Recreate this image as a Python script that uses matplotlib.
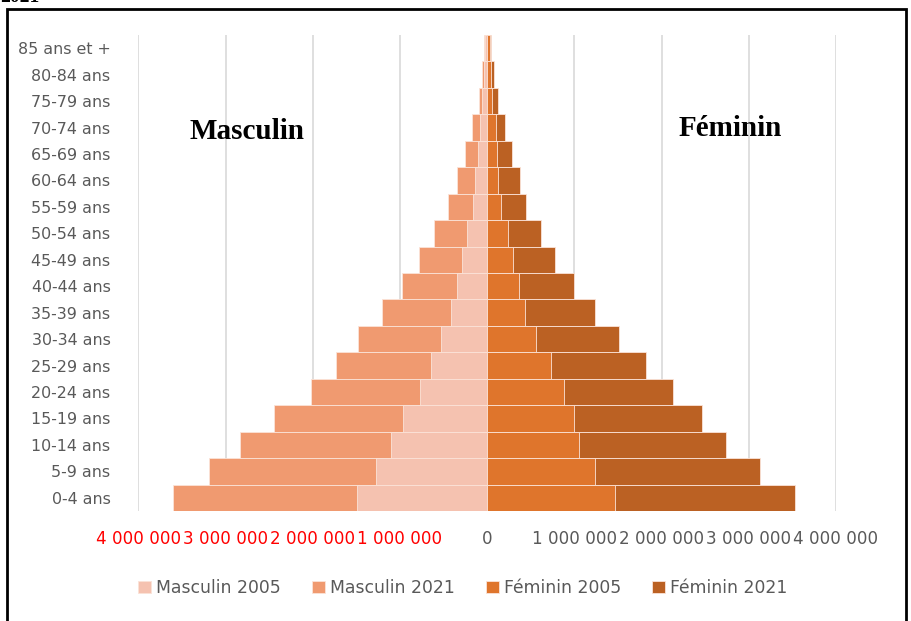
import numpy as np
import matplotlib.pyplot as plt
from matplotlib.patches import Rectangle
from matplotlib.ticker import FuncFormatter
from matplotlib import font_manager

# Age groups, bottom to top
ages = ['0-4 ans', '5-9 ans', '10-14 ans', '15-19 ans', '20-24 ans', '25-29 ans',
        '30-34 ans', '35-39 ans', '40-44 ans', '45-49 ans', '50-54 ans', '55-59 ans',
        '60-64 ans', '65-69 ans', '70-74 ans', '75-79 ans', '80-84 ans', '85 ans et +']

masc_2005 = [1494000, 1276000, 1107000, 966000, 770000, 644000, 529000, 414000, 349000,
             291000, 234000, 165000, 138000, 100000, 80000, 54000, 38000, 22000]
masc_2021 = [3606000, 3190000, 2830000, 2445000, 2015000, 1728000, 1479000, 1211000, 977000,
             778000, 609000, 445000, 349000, 249000, 172000, 92000, 54000, 31000]
fem_2005 = [1463000, 1233000, 1057000, 996000, 881000, 732000, 559000, 433000, 364000,
            295000, 238000, 157000, 130000, 111000, 96000, 57000, 42000, 27000]
fem_2021 = [3533000, 3123000, 2744000, 2460000, 2126000, 1820000, 1517000, 1238000, 996000,
            774000, 621000, 445000, 372000, 284000, 210000, 119000, 73000, 46000]

xticks = [-4000000, -3000000, -2000000, -1000000, 0, 1000000, 2000000, 3000000, 4000000]

c_m05 = '#F5C2B0'
c_m21 = '#F09A70'
c_f05 = '#DF752C'
c_f21 = '#BB6123'
grey = '#595959'

# narrow sans if there is one, else plain DejaVu
names = {f.name for f in font_manager.fontManager.ttflist}
fams = [n for n in ['Liberation Sans Narrow', 'DejaVu Sans Condensed'] if n in names]
plt.rcParams['font.family'] = fams + ['DejaVu Sans']
k = 1.1 if fams else 1.0

fig = plt.figure(figsize=(9.11, 6.21), dpi=100)
ax = fig.add_axes([138.3 / 911, 1 - 511 / 621, (836 - 138.3) / 911, (511 - 35) / 621])

y = np.arange(len(ages))
kw = dict(height=1.0, edgecolor='#FBE3D8', linewidth=0.6)
# 2021 behind, 2005 in front
ax.barh(y, -np.array(masc_2021), color=c_m21, label='Masculin 2021', **kw)
ax.barh(y, -np.array(masc_2005), color=c_m05, label='Masculin 2005', **kw)
ax.barh(y, fem_2021, color=c_f21, label='Féminin 2021', **kw)
ax.barh(y, fem_2005, color=c_f05, label='Féminin 2005', **kw)

ax.set_xlim(-4000000, 4000000)
ax.set_ylim(-0.5, len(ages) - 0.5)
ax.set_xticks(xticks)
ax.xaxis.set_major_formatter(FuncFormatter(lambda v, p: f'{abs(int(v)):,}'.replace(',', ' ')))
ax.set_yticks(y)
ax.set_yticklabels(ages)
ax.tick_params(axis='both', length=0, labelcolor=grey)
ax.tick_params(axis='x', pad=14, labelsize=12.1 * k)
ax.tick_params(axis='y', pad=20, labelsize=11.4 * k)
for lab, v in zip(ax.get_xticklabels(), xticks):
    if v < 0:
        lab.set_color('red')

ax.grid(axis='x', color='#D9D9D9', linewidth=1.2)
ax.set_axisbelow(True)
for s in ax.spines.values():
    s.set_visible(False)

ax.text(-2750000, 13.85, 'Masculin', family='Liberation Serif', fontweight='bold',
        fontsize=21, ha='center', va='center')
ax.text(2790000, 13.95, 'Féminin', family='Liberation Serif', fontweight='bold',
        fontsize=21, ha='center', va='center')

h, l = ax.get_legend_handles_labels()
order = [1, 0, 3, 2]
fig.legend([h[i] for i in order], [l[i] for i in order], loc='center',
           bbox_to_anchor=(463 / 911, 1 - 588 / 621), ncol=4, frameon=False,
           fontsize=12.4 * k, labelcolor=grey, handlelength=0.75, handleheight=0.75,
           handletextpad=0.3, columnspacing=1.8)

# outer frame and clipped year heading
fig.patches.append(Rectangle((6.5 / 911, -0.05), (906 - 6.5) / 911, 1.05 - 8.5 / 621,
                             transform=fig.transFigure, fill=False, edgecolor='black',
                             linewidth=2.0))
fig.text(0.0, 0.996, '2021', family='Liberation Serif', fontweight='bold', fontsize=14,
         va='baseline', ha='left')

fig.savefig('out.png', dpi=100)
